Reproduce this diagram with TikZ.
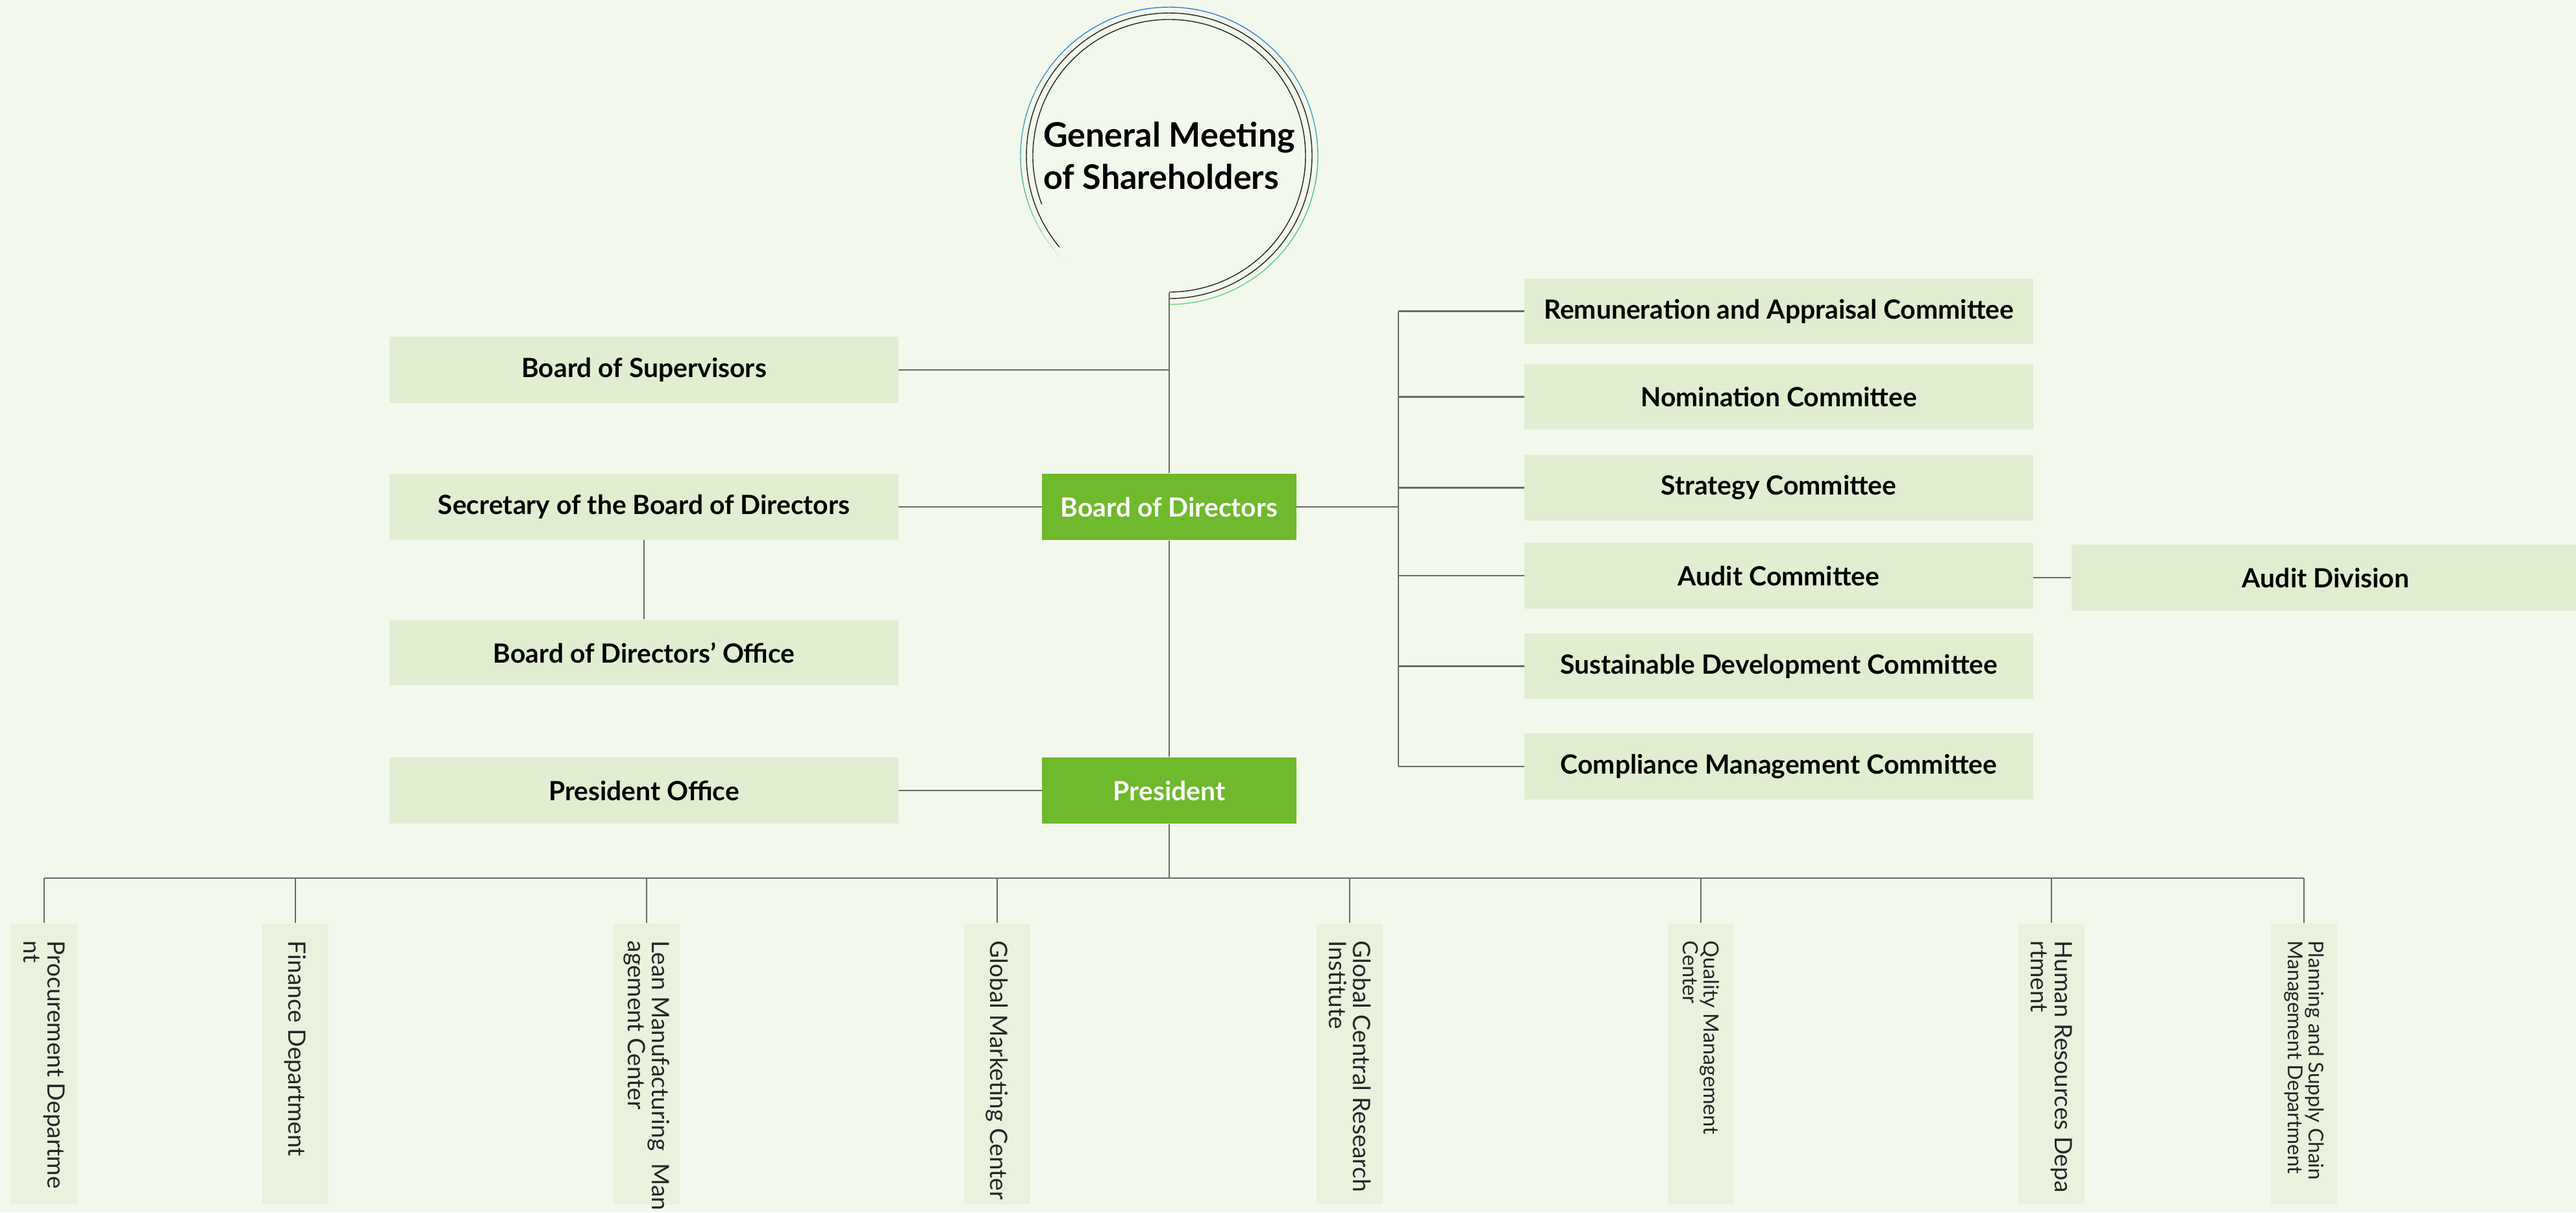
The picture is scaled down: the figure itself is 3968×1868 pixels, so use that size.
\documentclass[tikz,border=0pt]{standalone}
\usepackage{fontspec}
\setmainfont{Lato}
\usepackage{tikz}
\usetikzlibrary{positioning,calc}

\definecolor{bgcol}{RGB}{243,248,237}
\definecolor{boxcol}{RGB}{225,238,209}
\definecolor{deptcol}{RGB}{232,242,221}
\definecolor{leadcol}{RGB}{111,185,44}
\definecolor{linecol}{RGB}{105,105,105}
\definecolor{ringblue}{RGB}{52,128,215}
\definecolor{ringgreen}{RGB}{100,215,130}

\begin{document}
\begin{tikzpicture}[
    x=0.01cm, y=-0.01cm,
    unit/.style={rectangle, fill=boxcol, minimum width=7.83cm, minimum height=1.01cm, inner sep=0pt, font=\fontsize{11.6}{13}\selectfont\bfseries},
    lead/.style={rectangle, fill=leadcol, text=white, minimum width=3.91cm, minimum height=1.02cm, inner sep=0pt, font=\fontsize{11.6}{13}\selectfont\bfseries},
    dept/.style={rectangle, fill=deptcol, minimum width=1.02cm, minimum height=4.33cm, inner sep=0pt},
    deptlabel/.style={rotate=-90, anchor=west, inner sep=0pt, align=left, text=black!85},
    link/.style={draw=linecol, line width=0.7pt},
    ringline/.style={draw=black!85, line width=0.4pt}
]
    \useasboundingbox[fill=bgcol] (0,0) rectangle (3968,1868);

    % Top
    \node[circle, minimum size=4.2cm, inner sep=0pt, align=left, font=\fontsize{14.8}{18.5}\selectfont\bfseries] (gm) at (1801,240) {General Meeting\\of Shareholders};
    \draw[ringline] (gm.center) ++(-219.8:220) arc[start angle=-219.8, end angle=90, radius=220];
    \draw[ringline] (gm.center) ++(-200.9:210) arc[start angle=-200.9, end angle=90, radius=210];
    \foreach \a [evaluate=\a as \mix using {50*(1-sin(\a))}, evaluate=\a as \op using {min(1,(\a+228)/30)}] in {-228,-225,...,87}
        \draw[line width=0.4pt, draw=ringblue!\mix!ringgreen, draw opacity=\op] (gm.center) ++(\a:229) arc[start angle=\a, delta angle=3, radius=229];

    % Board and president
    \node[lead] (bod) at (1801,781) {Board of Directors};
    \node[lead] (pres) at (1801,1218) {President};
    \node[unit] (sup) at (992,570) {Board of Supervisors};
    \node[unit] (sec) at (992,781) {Secretary of the Board of Directors};
    \node[unit] (office) at (992,1005.5) {Board of Directors' Office};
    \node[unit] (preso) at (992,1218) {President Office};

    % Committees
    \foreach \y/\n/\txt in {479.5/rem/Remuneration and Appraisal Committee, 611.5/nom/Nomination Committee, 751.5/stra/Strategy Committee, 887/audit/Audit Committee, 1026.5/sust/Sustainable Development Committee, 1181/comp/Compliance Management Committee}
        \node[unit] (\n) at (2740,\y) {\txt};
    \node[unit] (adiv) at (3582.5,890) {Audit Division};

    % Departments
    \foreach \x/\n/\txt/\fs in {68/1/{Procurement Departme\\nt}/10.5, 455/2/{Finance Department}/10.5, 996/3/{Lean Manufacturing\ \ Man\\agement Center}/10.5, 1536/4/{Global Marketing Center}/10.5, 2079/5/{Global Central Research\\Institute}/10.5, 2620/6/{Quality Management\\Center}/9.2, 3160/7/{Human Resources Depa\\rtment}/10.5, 3549/8/{Planning and Supply Chain\\Management Department}/9}{
        \node[dept] (d\n) at (\x,1639.5) {};
        \node[deptlabel, font=\fontsize{\fs}{\fs}\selectfont] (l\n) at ($(d\n.north)+(0,27)$) {\txt};
    }

    % Links
    \draw[link] (gm.south) -- (bod.north);
    \draw[link] (bod.south) -- (pres.north);
    \draw[link] (sup.east) -- (sup.east -| bod.north);
    \draw[link] (sec.east) -- (bod.west);
    \draw[link] (sec.south) -- (office.north);
    \draw[link] (preso.east) -- (pres.west);

    \coordinate (fork) at (2154,781);
    \draw[link] (bod.east) -- (fork);
    \draw[link] (fork |- rem.west) -- (fork |- comp.west);
    \foreach \n in {rem,nom,stra,audit,sust,comp}
        \draw[link] (fork |- \n.west) -- (\n.west);
    \draw[link] (audit.east |- adiv.west) -- (adiv.west);

    \coordinate (bus) at (1801,1353);
    \draw[link] (pres.south) -- (bus);
    \draw[link] (d1.north |- bus) -- (d8.north |- bus);
    \foreach \n in {1,...,8}
        \draw[link] (d\n.north |- bus) -- (d\n.north);
\end{tikzpicture}
\end{document}
